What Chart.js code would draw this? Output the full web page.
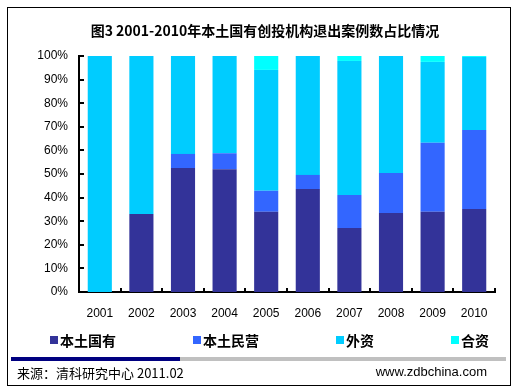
<!DOCTYPE html>
<html>
<head>
<meta charset="utf-8">
<script src="https://cdn.jsdelivr.net/npm/chart.js@4.4.1/dist/chart.umd.min.js"></script>
<style>
  body { margin: 0; background: #fff; }
  #wrap { position: relative; width: 520px; height: 392px; overflow: hidden; }
  #chart { position: absolute; left: 0; top: 0; }
  #frame { position: absolute; left: 7px; top: 7px; width: 504px; height: 379px; border: 1px solid #000; box-sizing: border-box; }
  #title { position: absolute; left: 0; top: 20px; width: 530px; text-align: center; font: bold 14px "Noto Sans CJK SC", sans-serif; color: #000; }
  .bar { position: absolute; top: 357px; height: 4px; }
  #src { position: absolute; left: 17px; top: 363px; font: 13px "Noto Sans CJK SC", sans-serif; color: #000; }
  #site { position: absolute; right: 33px; top: 364px; font: 13px "Liberation Sans", Arial, sans-serif; color: #000; }
</style>
</head>
<body>
<div id="wrap">
  <canvas id="chart" width="520" height="392"></canvas>
  <div id="frame"></div>
  <div id="title">图3 2001-2010年本土国有创投机构退出案例数占比情况</div>
  <div class="bar" style="left:11px;width:169px;background:#000080"></div>
  <div class="bar" style="left:180px;width:326px;background:#c0c0c0"></div>
  <div id="src">来源：清科研究中心 2011.02</div>
  <div id="site">www.zdbchina.com</div>
</div>
<script>
// share of exit cases, %
const years = ['2001', '2002', '2003', '2004', '2005', '2006', '2007', '2008', '2009', '2010'];
const stateOwned = [0, 33, 52.5, 52, 34, 43.6, 27.1, 33.5, 34, 35.2];
const privateLocal = [0, 0, 6, 6.8, 8.9, 6, 14, 16.9, 29.2, 33.4];
const foreign = [100, 67, 41.5, 41.2, 51.2, 50.4, 56.8, 49.6, 34.3, 31];
const jointVenture = [0, 0, 0, 0, 5.9, 0, 2.1, 0, 2.5, 0.4];
const seriesNames = ['本土国有', '本土民营', '外资', '合资'];
const colors = ['#333399', '#3366ff', '#00ccff', '#00ffff'];

// ticks pointing inward, like the old excel chart
const innerTicks = {
  id: 'innerTicks',
  afterDatasetsDraw(chart) {
    const { ctx, chartArea: a, scales: { y } } = chart;
    ctx.save();
    ctx.strokeStyle = '#000';
    ctx.lineWidth = 2;
    ctx.beginPath();
    y.ticks.forEach(t => {
      const py = Math.round(y.getPixelForValue(t.value));
      ctx.moveTo(a.left, py);
      ctx.lineTo(a.left + 5, py);
    });
    for (let i = 0; i <= years.length; i++) {
      const px = Math.round(a.left + (a.right - a.left) * i / years.length);
      ctx.moveTo(px, a.bottom);
      ctx.lineTo(px, a.bottom - 4);
    }
    ctx.stroke();
    ctx.restore();
  }
};

// legend spread across the width
const flatLegend = {
  id: 'flatLegend',
  afterDraw(chart) {
    const ctx = chart.ctx;
    ctx.save();
    ctx.font = 'bold 14px "Noto Sans CJK SC"';
    ctx.textBaseline = 'middle';
    let x = 50;
    const y = 340;
    chart.data.datasets.forEach(ds => {
      ctx.fillStyle = ds.backgroundColor;
      ctx.fillRect(x, y - 4, 8, 8);
      ctx.fillStyle = '#000';
      ctx.fillText(ds.label, x + 10, y + 1);
      x += 10 + ctx.measureText(ds.label).width + 77;
    });
    ctx.restore();
  }
};

const tickFont = { family: '"Liberation Sans", Arial, sans-serif', size: 12 };

new Chart(document.getElementById('chart').getContext('2d'), {
  type: 'bar',
  data: {
    labels: years,
    datasets: [stateOwned, privateLocal, foreign, jointVenture].map((d, i) => ({
      label: seriesNames[i],
      data: d,
      backgroundColor: colors[i],
      borderWidth: 0,
      barPercentage: 0.58,
      categoryPercentage: 1
    }))
  },
  options: {
    responsive: false,
    animation: false,
    layout: { padding: { left: 0, right: 25, top: 56, bottom: 0 } },
    plugins: {
      legend: { display: false },
      tooltip: { enabled: false }
    },
    scales: {
      x: {
        stacked: true,
        grid: { display: false, drawTicks: false },
        border: { display: true, color: '#000', width: 2 },
        ticks: { color: '#000', font: tickFont, padding: 14 },
        afterFit(s) { s.height = 100; }
      },
      y: {
        stacked: true,
        min: 0,
        max: 100,
        grid: { display: false, drawTicks: false },
        border: { display: true, color: '#000', width: 2 },
        ticks: { stepSize: 10, color: '#000', font: tickFont, padding: 11, callback: v => v + '%' },
        afterFit(s) { s.width = 79; }
      }
    }
  },
  plugins: [innerTicks, flatLegend]
});
</script>
</body>
</html>
